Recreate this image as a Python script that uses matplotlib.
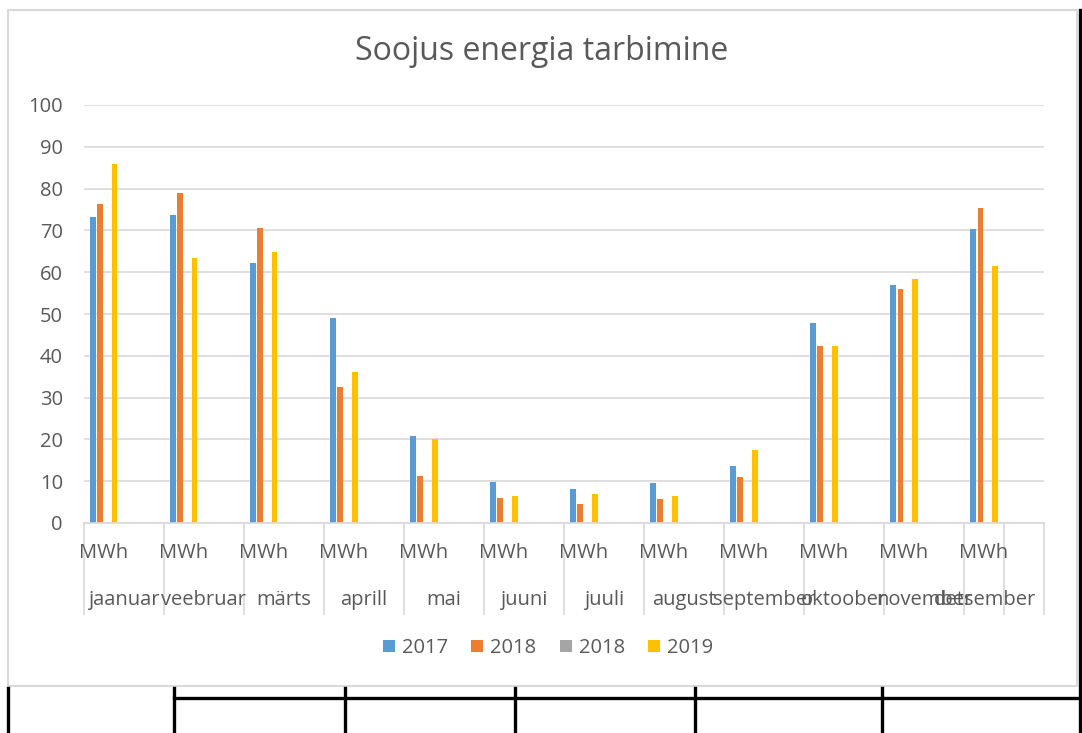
import numpy as np
import matplotlib.pyplot as plt
from matplotlib.lines import Line2D
from matplotlib.patches import Rectangle, Patch

months = ["jaanuar", "veebruar", "märts", "aprill", "mai", "juuni",
          "juuli", "august", "september", "oktoober", "november", "detsember"]
unit = "MWh"
series_names = ["2017", "2018", "2018", "2019"]
v2017 = [73.2, 73.8, 62.3, 49.0, 20.8, 9.8, 8.1, 9.6, 13.6, 47.8, 56.9, 70.3]
v2018 = [76.2, 78.9, 70.6, 32.6, 11.2, 5.9, 4.5, 5.7, 10.9, 42.3, 56.1, 75.3]
v2018b = [0, 0, 0, 0, 0, 0, 0, 0, 0, 0, 0, 0]
v2019 = [86.0, 63.4, 64.9, 36.1, 20.1, 6.5, 6.9, 6.5, 17.5, 42.3, 58.4, 61.6]
colors = ["#5B9BD5", "#ED7D31", "#A5A5A5", "#FFC000"]

W, H = 1082, 733
plt.rcParams['font.family'] = ['Open Sans', 'DejaVu Sans']
txt = "#595959"
grid = "#D9D9D9"
fs = 14.5

fig = plt.figure(figsize=(W / 100, H / 100), dpi=100)

def fx(px):
    return px / W

def fy(py):
    return 1 - py / H

# chart area border
fig.add_artist(Rectangle((fx(8), fy(686)), fx(1077) - fx(8), fy(10) - fy(686),
                         transform=fig.transFigure, fill=False, edgecolor=grid, lw=1.5))

ax = fig.add_axes([fx(83.7), fy(523), fx(1044) - fx(83.7), fy(105) - fy(523)])

x = np.arange(len(months))
step = 0.091
width = 0.07
for k, (vals, c) in enumerate(zip([v2017, v2018, v2018b, v2019], colors)):
    ax.bar(x + 0.25 + (k - 1.5) * step, vals, width=width, color=c, lw=0)

ax.set_xlim(0, 12)
ax.set_ylim(0, 100)
ax.set_yticks(np.arange(0, 101, 10))
ax.tick_params(axis='y', length=0, pad=15, labelsize=fs, labelcolor=txt)
ax.set_xticks([])
ax.yaxis.grid(True, color=grid, lw=1.2)
ax.set_axisbelow(True)
for s in ["left", "right", "top"]:
    ax.spines[s].set_visible(False)
ax.spines["bottom"].set_color(grid)
ax.spines["bottom"].set_linewidth(1.2)

# multi-level category axis
tr = ax.get_xaxis_transform()
dividers = list(range(13)) + [11.5]
for d in dividers:
    ax.plot([d, d], [0, -0.218], transform=tr, color=grid, lw=1.2, clip_on=False)
for i, m in enumerate(months):
    ax.text(i + 0.25, -0.072, unit, transform=tr, ha='center', va='center',
            fontsize=fs, color=txt)
    mx = i + 0.5 if i < 11 else i + 0.26
    ax.text(mx, -0.184, m, transform=tr, ha='center', va='center',
            fontsize=fs, color=txt)

fig.text(fx(542), fy(51), "Soojus energia tarbimine", ha='center', va='center',
         fontsize=23, color=txt)

handles = [Patch(facecolor=c, edgecolor='none') for c in colors]
leg = fig.legend(handles, series_names, loc='center', bbox_to_anchor=(fx(548), fy(648)),
                 ncol=4, frameon=False, fontsize=fs, handlelength=0.6, handleheight=0.6,
                 handletextpad=0.35, columnspacing=1.15, labelcolor=txt)

# spreadsheet cell borders around the chart
def bline(x0, y0, x1, y1):
    fig.add_artist(Line2D([fx(x0), fx(x1)], [fy(y0), fy(y1)], transform=fig.transFigure,
                          color='black', lw=2.4))

bline(1080, 10, 1080, 733)
bline(174, 698, 1082, 698)
for bx in [8, 174, 345, 515, 695, 882]:
    bline(bx, 688, bx, 733)

fig.savefig("out.png", dpi=100)
